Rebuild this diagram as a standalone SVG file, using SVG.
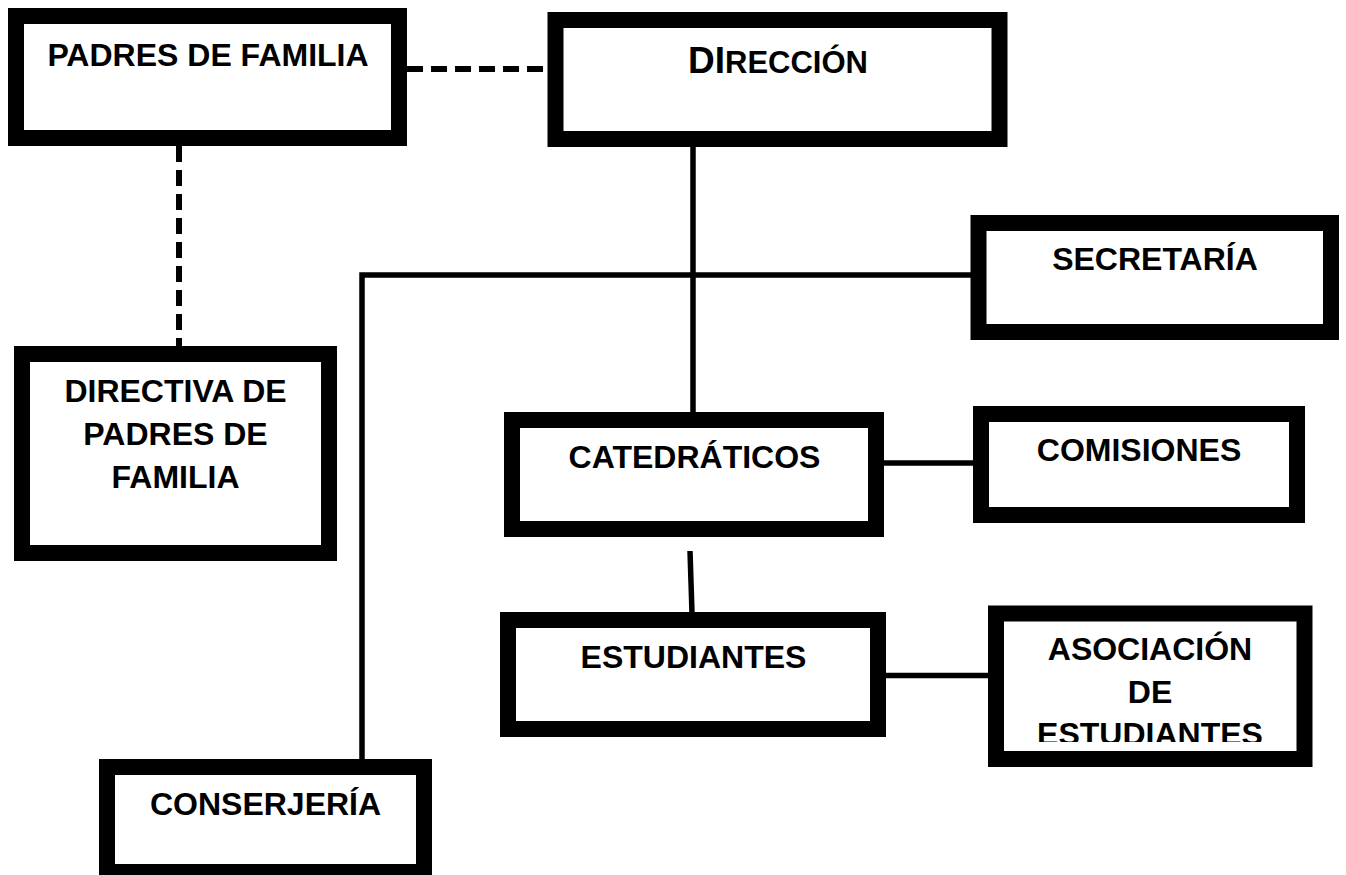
<svg xmlns="http://www.w3.org/2000/svg" width="1346" height="875" viewBox="0 0 1346 875">
<style>
.box{fill:#fff;stroke:#000;stroke-width:16}
.t{font-family:"Liberation Sans",Arial,sans-serif;font-weight:bold;font-size:32px;fill:#000;text-anchor:middle}
.ln{stroke:#000;stroke-width:5.5;fill:none}
.dash{stroke:#000;stroke-width:6;fill:none;stroke-dasharray:16 8}
</style>
<defs>
<clipPath id="asocClip"><rect x="996" y="613" width="308" height="129"/></clipPath>
</defs>
<rect width="1346" height="875" fill="#fff"/>
<g id="connectors">
<line class="dash" x1="407" y1="69" x2="548" y2="69"/>
<line class="dash" x1="179" y1="146" x2="179" y2="347"/>
<line class="ln" x1="693" y1="147" x2="693" y2="413"/>
<polyline class="ln" points="971,275 362,275 362,760"/>
<line class="ln" x1="690" y1="551" x2="692" y2="613"/>
<line class="ln" x1="884" y1="463" x2="974" y2="463"/>
<line class="ln" x1="886" y1="675.5" x2="989" y2="675.5"/>
</g>
<g id="padres">
<rect class="box" x="16" y="16" width="383" height="122"/>
<text class="t" x="208" y="66">PADRES DE FAMILIA</text>
</g>
<g id="direccion">
<rect class="box" x="555.5" y="20" width="444" height="119"/>
<text class="t" x="778" y="73"><tspan font-size="37">DI</tspan><tspan font-size="31">RECCIÓN</tspan></text>
</g>
<g id="secretaria">
<rect class="box" x="978.5" y="223" width="352.5" height="109"/>
<text class="t" x="1155" y="270">SECRETARÍA</text>
</g>
<g id="directiva">
<rect class="box" x="22" y="354" width="307" height="199"/>
<text class="t" x="175.5" y="402">DIRECTIVA DE</text>
<text class="t" x="175.5" y="444.5">PADRES DE</text>
<text class="t" x="175.5" y="488">FAMILIA</text>
</g>
<g id="catedraticos">
<rect class="box" x="512" y="420" width="364" height="109"/>
<text class="t" x="694.5" y="468">CATEDRÁTICOS</text>
</g>
<g id="comisiones">
<rect class="box" x="981" y="414" width="316" height="101"/>
<text class="t" x="1139" y="461">COMISIONES</text>
</g>
<g id="estudiantes">
<rect class="box" x="508" y="620" width="370" height="109"/>
<text class="t" x="693.5" y="668">ESTUDIANTES</text>
</g>
<g id="asociacion">
<rect class="box" x="996" y="613.5" width="308.5" height="145.5"/>
<g clip-path="url(#asocClip)">
<text class="t" x="1150" y="660">ASOCIACIÓN</text>
<text class="t" x="1150" y="702.5">DE</text>
<text class="t" x="1150" y="745">ESTUDIANTES</text>
</g>
</g>
<g id="conserjeria">
<rect class="box" x="107" y="767" width="317" height="105"/>
<text class="t" x="265.5" y="815">CONSERJERÍA</text>
</g>
</svg>
